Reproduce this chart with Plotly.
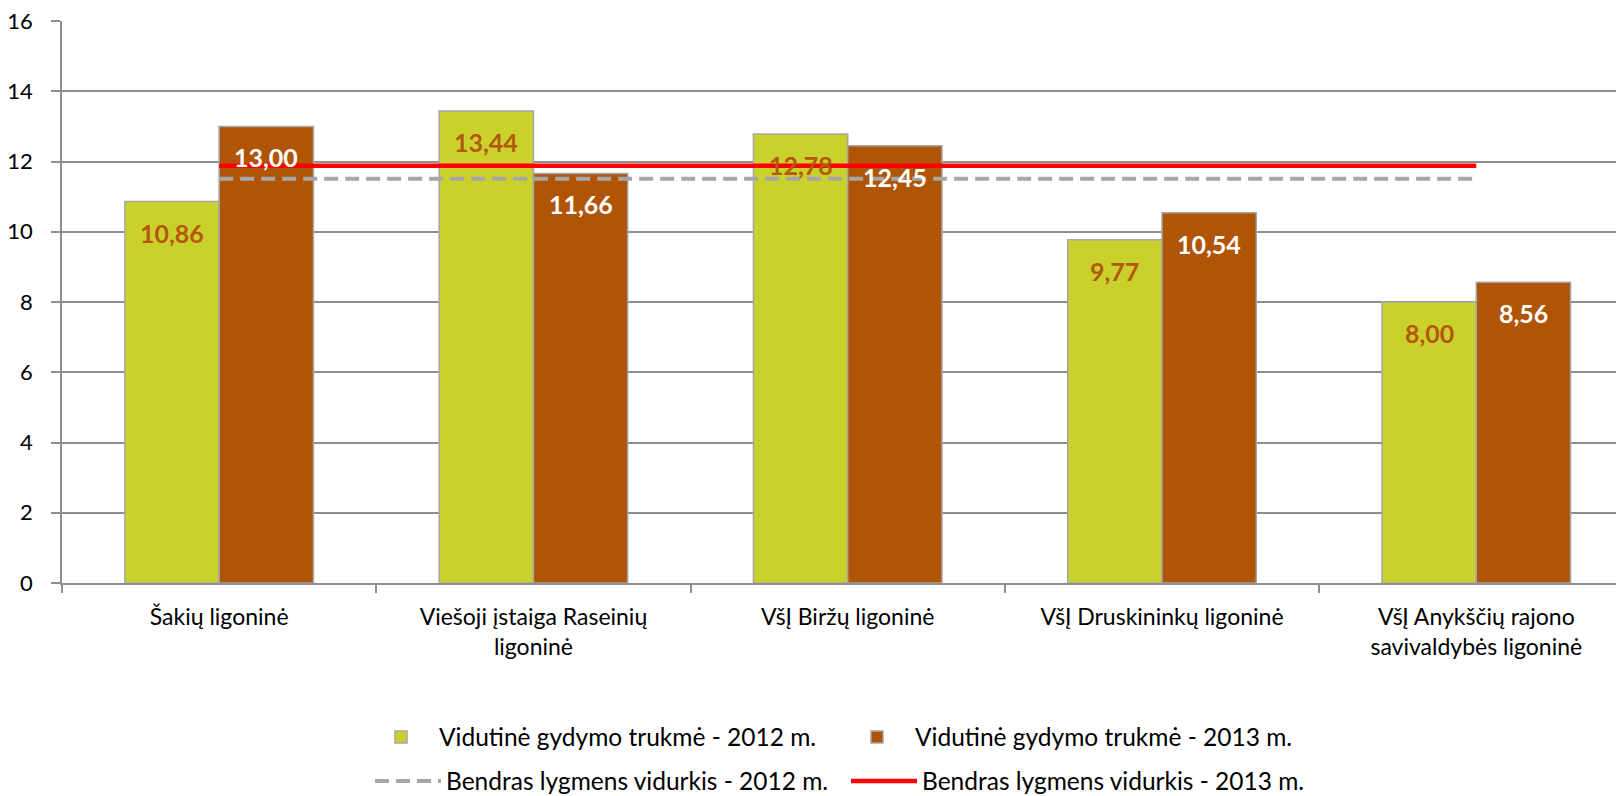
import plotly.graph_objects as go

categories = [
    "Šakių ligoninė",
    "Viešoji įstaiga Raseinių<br>ligoninė",
    "VšĮ Biržų ligoninė",
    "VšĮ Druskininkų ligoninė",
    "VšĮ Anykščių rajono<br>savivaldybės ligoninė",
]
values_2012 = [10.86, 13.44, 12.78, 9.77, 8.00]
values_2013 = [13.00, 11.66, 12.45, 10.54, 8.56]
avg_2012 = [11.51, 11.51, 11.51, 11.51, 11.51]
avg_2013 = [11.88, 11.88, 11.88, 11.88, 11.88]
y_ticks = [0, 2, 4, 6, 8, 10, 12, 14, 16]

names = [
    "Vidutinė gydymo trukmė - 2012 m.",
    "Vidutinė gydymo trukmė - 2013 m.",
    "Bendras lygmens vidurkis - 2012 m.",
    "Bendras lygmens vidurkis - 2013 m.",
]

GREEN = "#CBD12C"
BROWN = "#B05406"
LABEL_BROWN = "#B3580C"
GRID = "#8E8E8E"
FONT = "Lato"
BARGAP = 0.4

# the page body adds an 8px margin, so the figure is 8px smaller each way
W, H = 1616, 788

fig = go.Figure()
fig.add_trace(go.Bar(
    x=categories, y=values_2012, name=names[0], marker_color=GREEN,
    marker_line=dict(color="#A6A6A6", width=1.5), legend="legend",
))
fig.add_trace(go.Bar(
    x=categories, y=values_2013, name=names[1], marker_color=BROWN,
    marker_line=dict(color="#A6A6A6", width=1.5), legend="legend",
))
fig.add_trace(go.Scatter(
    x=categories, y=avg_2012, name=names[2], mode="lines",
    line=dict(color="#A6A6A6", width=4, dash="14px,7px"), legend="legend2",
))
fig.add_trace(go.Scatter(
    x=categories, y=avg_2013, name=names[3], mode="lines",
    line=dict(color="#FF0000", width=4.5), legend="legend2",
))

half = (1 - BARGAP) / 4
annotations = []
for i, (a, b) in enumerate(zip(values_2012, values_2013)):
    annotations.append(dict(
        x=i - half, y=a, xref="x", yref="y", text=f"{a:.2f}".replace(".", ","),
        showarrow=False, yshift=-31,
        font=dict(family=FONT, size=25, color=LABEL_BROWN, weight="bold"),
    ))
    annotations.append(dict(
        x=i + half, y=b, xref="x", yref="y", text=f"{b:.2f}".replace(".", ","),
        showarrow=False, yshift=-31,
        font=dict(family=FONT, size=25, color="white", weight="bold"),
    ))

legend_common = dict(
    orientation="h", xref="container", yref="container",
    xanchor="left", yanchor="middle",
    font=dict(family=FONT, size=24.5, color="black"),
    itemwidth=66, entrywidth=395, bgcolor="rgba(0,0,0,0)",
)

fig.update_layout(
    width=W, height=H,
    margin=dict(l=54, r=0, t=13, b=H - 575, autoexpand=False),
    plot_bgcolor="white", paper_bgcolor="white",
    barmode="group", bargap=BARGAP, bargroupgap=0,
    font=dict(family=FONT, color="black"),
    annotations=annotations,
    legend=dict(x=355 / W, y=1 - 729 / H, **legend_common),
    legend2=dict(x=362 / W, y=1 - 773 / H, **legend_common),
)
fig.update_xaxes(
    type="category", range=[-0.5, 4.47],
    showline=True, linecolor=GRID, linewidth=1.5,
    ticks="outside", tickson="boundaries", ticklen=8, tickcolor=GRID, tickwidth=1.5,
    showgrid=False, tickfont=dict(family=FONT, size=23, color="black"),
    ticklabelstandoff=13, ticklabeloverflow="allow",
)
fig.update_yaxes(
    range=[0, 16], tickvals=y_ticks,
    showline=True, linecolor=GRID, linewidth=1.5,
    showgrid=True, gridcolor=GRID, gridwidth=1.5,
    ticks="outside", ticklen=9, tickcolor=GRID, tickwidth=1.5,
    tickfont=dict(family=FONT, size=22, color="black"),
    ticklabelstandoff=14, ticklabeloverflow="allow", zeroline=False,
)

fig.write_html("out.html")
